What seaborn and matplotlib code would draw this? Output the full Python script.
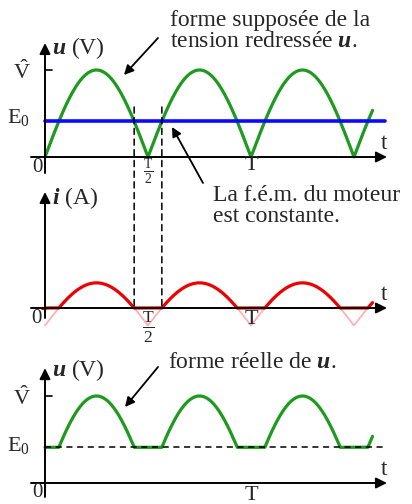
import numpy as np
import pandas as pd
import matplotlib
matplotlib.use("Agg")
import matplotlib.pyplot as plt
from matplotlib.patches import ConnectionPatch, FancyArrowPatch
import seaborn as sns

# valeurs (t en unites de T)
V_HAT = 1.0          # amplitude de la tension redressee
E0 = 0.41            # f.e.m. du moteur (rapport a V chapeau)
I_SCALE = 0.49       # i = (u - E0) / R, echelle du dessin
T_END = 1.59         # fin des courbes
T_TICKS = [0.5, 1.0]
T_TICK_LABELS = [r"$\frac{\mathrm{T}}{2}$", "T"]

sns.set_theme(style="white")
plt.rcParams["font.family"] = ["Liberation Serif", "DejaVu Serif"]
plt.rcParams["mathtext.fontset"] = "custom"
plt.rcParams["mathtext.rm"] = "Liberation Serif"
plt.rcParams["mathtext.it"] = "Liberation Serif:italic:bold"
plt.rcParams["mathtext.bf"] = "Liberation Serif:bold"

W, H = 412, 504
PX = 206.0  # pixels par periode T
UY = 87.0   # pixels par unite verticale
X0 = 45.0   # position de t = 0

t = np.linspace(0, T_END, 1200)
u = V_HAT * np.abs(np.sin(2 * np.pi * t))
df = pd.DataFrame({"t": t, "u": u})
df["i_full"] = I_SCALE * (df["u"] - E0)
df["i"] = df["i_full"].clip(lower=0)
df["u_reel"] = df["u"].clip(lower=E0)
t_cross = 0.5 - np.arcsin(E0 / V_HAT) / (2 * np.pi)

fig = plt.figure(figsize=(W / 100, H / 100), dpi=100)


def make_ax(top, bottom, zero):
    ax = fig.add_axes([0, 1 - bottom / H, 1, (bottom - top) / H])
    ax.set_xlim(-X0 / PX, (W - X0) / PX)
    ax.set_ylim(-(bottom - zero) / UY, (zero - top) / UY)
    ax.axis("off")
    return ax


ax1 = make_ax(0, 175, 157)
ax2 = make_ax(175, 345, 308)
ax3 = make_ax(345, 504, 483)

green = "#1e9a1e"
fs = 15
fs_txt = 17


def axes_arrows(ax, y_bottom, y_top):
    ax.annotate("", xy=(1.66, 0), xytext=(-0.068, 0),
                arrowprops=dict(arrowstyle="-|>", lw=1.4, color="black", mutation_scale=16, shrinkA=0, shrinkB=0))
    ax.annotate("", xy=(0, y_top), xytext=(0, y_bottom),
                arrowprops=dict(arrowstyle="-|>", lw=1.4, color="black", mutation_scale=16, shrinkA=0, shrinkB=0))
    ax.text(1.646, 0.15, "t", fontsize=fs + 2, ha="center", va="center")


# --- tension supposee ---
axes_arrows(ax1, -0.184, 1.31)
sns.lineplot(data=df, x="t", y="u", ax=ax1, color=green, lw=2.3, estimator=None, legend=False)
ax1.plot([0, 1.652], [E0, E0], color="#0a0aff", lw=2.6)
ax1.plot([0, 0.035], [V_HAT, V_HAT], color="black", lw=1.2)
ax1.text(-0.11, V_HAT - 0.03, r"$\hat{\mathrm{V}}$", fontsize=fs + 1, ha="center", va="center")
ax1.text(-0.13, E0 + 0.04, r"E$_0$", fontsize=fs + 1, ha="center", va="center")
ax1.text(-0.035, -0.12, "0", fontsize=fs, ha="center", va="center")
ax1.text(T_TICKS[0], -0.17, T_TICK_LABELS[0], fontsize=fs - 1, ha="center", va="center")
ax1.text(T_TICKS[1], -0.1, T_TICK_LABELS[1], fontsize=fs + 1, ha="center", va="center")
ax1.text(0.035, 1.25, r"$u$ (V)", fontsize=fs + 2, ha="left", va="center")

# --- courant ---
axes_arrows(ax2, -0.115, 1.333)
sns.lineplot(data=df, x="t", y="i_full", ax=ax2, color="#ffb0b0", lw=1.3, estimator=None, legend=False)
ax2.plot([-0.015, 0], [0, 0], color="#ee0000", lw=2.3)
sns.lineplot(data=df, x="t", y="i", ax=ax2, color="#ee0000", lw=2.3, estimator=None, legend=False)
ax2.text(-0.04, -0.12, "0", fontsize=fs, ha="center", va="center")
ax2.text(T_TICKS[0], -0.22, T_TICK_LABELS[0], fontsize=fs + 3, ha="center", va="center")
ax2.text(T_TICKS[1], -0.13, T_TICK_LABELS[1], fontsize=fs + 1, ha="center", va="center")
ax2.text(0.035, 1.26, r"$i$ (A)", fontsize=fs + 2, ha="left", va="center")

# --- tension reelle ---
axes_arrows(ax3, -0.16, 1.32)
sns.lineplot(data=df, x="t", y="u_reel", ax=ax3, color=green, lw=2.3, estimator=None, legend=False)
ax3.plot([0, 1.652], [E0, E0], color="black", lw=1.1, ls=(0, (4, 3)))
ax3.plot([0, 0.035], [V_HAT, V_HAT], color="black", lw=1.2)
ax3.text(-0.11, V_HAT - 0.03, r"$\hat{\mathrm{V}}$", fontsize=fs + 1, ha="center", va="center")
ax3.text(-0.13, E0 + 0.02, r"E$_0$", fontsize=fs + 1, ha="center", va="center")
ax3.text(-0.035, -0.11, "0", fontsize=fs, ha="center", va="center")
ax3.text(T_TICKS[1], -0.14, T_TICK_LABELS[1], fontsize=fs + 1, ha="center", va="center")
ax3.text(0.035, 1.3, r"$u$ (V)", fontsize=fs + 2, ha="left", va="center")

# pointilles verticaux entre les deux premiers graphes
for tc in (t_cross, 1 - t_cross):
    con = ConnectionPatch(xyA=(tc, 0.575), coordsA=ax1.transData,
                          xyB=(tc, 0), coordsB=ax2.transData,
                          color="black", lw=1.1, ls=(0, (4, 3)))
    fig.add_artist(con)


def px(x, y):
    return x / W, 1 - y / H


arrow_kw = dict(arrowstyle="-|>", lw=1.3, color="black", mutation_scale=14, shrinkA=0, shrinkB=0)
fig.text(*px(170, 31), "forme supposée de la\ntension redressée $u$.", fontsize=fs_txt,
         ha="left", va="center", linespacing=1.05)
fig.add_artist(FancyArrowPatch(px(158, 38), px(124, 75), transform=fig.transFigure, **arrow_kw))

fig.text(*px(213, 206), "La f.é.m. du moteur\nest constante.", fontsize=fs_txt,
         ha="left", va="center", linespacing=1.05)
fig.add_artist(FancyArrowPatch(px(203, 183), px(172, 127), transform=fig.transFigure, **arrow_kw))

fig.text(*px(168, 363), "forme réelle de $u$.", fontsize=fs_txt, ha="left", va="center")
fig.add_artist(FancyArrowPatch(px(158, 367), px(125, 407), transform=fig.transFigure, **arrow_kw))

fig.savefig("out.png", dpi=100)
